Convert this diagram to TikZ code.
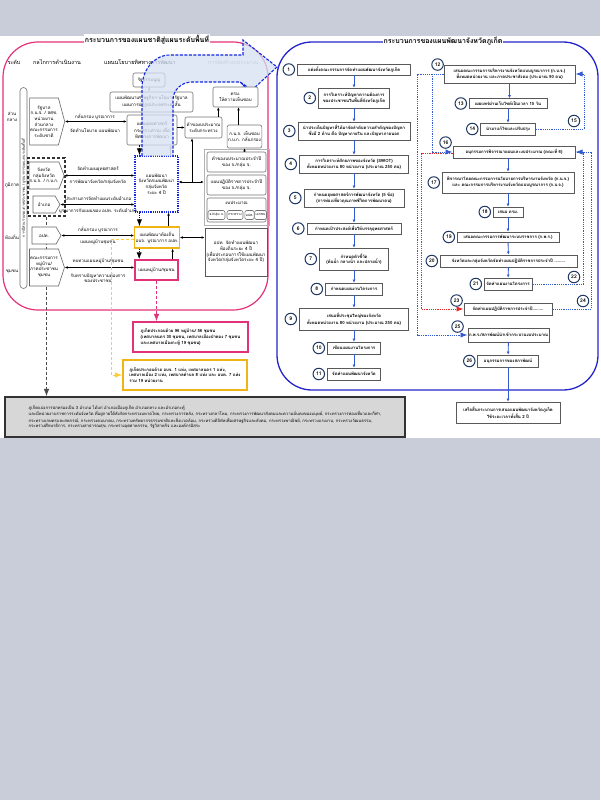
\documentclass[tikz,border=0pt]{standalone}
\usepackage{fontspec}
\setmainfont[Script=Thai]{Loma}
\usepackage{tikz}
\usetikzlibrary{positioning,arrows.meta,shapes.symbols,shadows,calc}

\definecolor{bgcol}{RGB}{200,205,217}
\definecolor{pinkln}{RGB}{226,50,122}
\definecolor{panelbl}{RGB}{36,36,205}
\definecolor{navy}{RGB}{31,56,100}
\definecolor{stepbl}{RGB}{50,90,210}
\definecolor{bandbl}{RGB}{20,40,225}
\definecolor{bandfill}{RGB}{214,225,244}
\definecolor{goldln}{RGB}{240,180,20}
\definecolor{yelln}{RGB}{255,205,60}
\definecolor{redln}{RGB}{230,40,40}
\definecolor{boxgray}{RGB}{215,215,215}

\begin{document}
\begin{tikzpicture}[x=1pt,y=-1pt,>=Latex,
  font=\fontsize{4.5}{5.6}\selectfont,
  stepbox/.style={draw=black!65, line width=0.9pt, fill=white, align=center, inner sep=1pt,
                  font=\fontsize{4.3}{5.6}\selectfont\bfseries,
                  drop shadow={shadow xshift=0.7pt,shadow yshift=-0.7pt,opacity=0.45}},
  numcirc/.style={circle, draw=navy, line width=1pt, fill=white, minimum size=11.5pt, inner sep=0pt,
                  font=\fontsize{5}{5}\selectfont\bfseries},
  lvlbox/.style={draw=black!55, rounded corners=2pt, fill=white, align=center, inner sep=1pt, line width=0.6pt},
  sigbox/.style={signal, signal to=east, signal pointer angle=#1, draw=black!60, fill=white,
                 align=center, inner sep=0.5pt, line width=0.6pt},
  infobox/.style={line width=1.2pt, fill=white, align=left, inner sep=3pt, font=\fontsize{4.3}{5.6}\selectfont\bfseries},
  dblarr/.style={{Latex[length=3pt,width=2.6pt]}-{Latex[length=3pt,width=2.6pt]}, line width=0.9pt},
  uparr/.style={-{Latex[length=3pt,width=2.6pt]}, line width=0.9pt},
  steparr/.style={-{Latex[length=3pt,width=3pt]}, draw=stepbl, line width=0.9pt},
  bluedot/.style={draw=stepbl, line width=0.9pt, dash pattern=on 1.2pt off 1pt},
  reddot/.style={draw=redln, line width=0.9pt, dash pattern=on 1.2pt off 1pt},
  blkdot/.style={line width=0.9pt, dash pattern=on 1.2pt off 1pt},
  blkdash/.style={draw=black!70, line width=1pt, dash pattern=on 3pt off 2pt}]

  % page, panels, titles
  \useasboundingbox (0,0) rectangle (600,800);
  \fill[bgcol] (0,0) rectangle (600,800);
  \fill[white] (0,36) rectangle (600,438);
  \draw[pinkln, line width=1.2pt, rounded corners=35pt] (3,42) rectangle (268,310);
  \draw[panelbl, line width=1.3pt, rounded corners=35pt] (277,42) rectangle (598,390);
  \node[fill=white, inner sep=1pt, font=\fontsize{7}{8}\selectfont\bfseries] (ltitle) at (147,40) {กระบวนการของแผนชาติสู่แผนระดับพื้นที่};
  \node[fill=white, inner sep=1pt, font=\fontsize{7}{8}\selectfont\bfseries] (rtitle) at (443,41) {กระบวนการของแผนพัฒนาจังหวัดภูเก็ต};

  % headers and levels
  \node[font=\fontsize{5.5}{6}\selectfont] (hlvl) at (14,62) {ระดับ};
  \node[font=\fontsize{5.5}{6}\selectfont] (hmech) at (57,62) {กลไกการดำเนินงาน};
  \node[font=\fontsize{5.5}{6}\selectfont] (hpol) at (140,62) {แผนนโยบายทิศทางการพัฒนา};
  \node[font=\fontsize{5.5}{6}\selectfont, text=black!40] (hbud) at (233,62) {การจัดทำงบประมาณ};
  \node[align=center] (lv1) at (12,117) {ส่วน\\กลาง};
  \node (lv2) at (12,185) {ภูมิภาค};
  \node (lv3) at (12,237) {ท้องถิ่น};
  \node (lv4) at (12,272) {ชุมชน};
  \node[draw=black!55, rounded corners=3.5pt, minimum width=7pt, minimum height=201pt, line width=0.6pt] (oval) at (23.5,188) {};
  \node[rotate=90, font=\fontsize{3.6}{4}\selectfont] at (oval) {การมีส่วนร่วมของภาคประชาชน / บูรณาการแผนงานระดับพื้นที่};

  % bottom note and mechanism column
  \node[infobox, draw=black!80, fill=boxgray, minimum width=400pt, minimum height=40pt,
        font=\fontsize{4.2}{5.4}\selectfont] (gbox) at (205,417)
    {ภูเก็ตแบ่งการปกครองเป็น 3 อำเภอ ได้แก่ อำเภอเมืองภูเก็ต อำเภอถลาง และอำเภอกะทู้\\
     และมีหน่วยงานราชการระดับจังหวัด ที่อยู่ภายใต้สังกัดกระทรวงมหาดไทย, กระทรวงการคลัง, กระทรวงกลาโหม, กระทรวงการพัฒนาสังคมและความมั่นคงของมนุษย์, กระทรวงการท่องเที่ยวและกีฬา,\\
     กระทรวงเกษตรและสหกรณ์, กระทรวงคมนาคม, กระทรวงทรัพยากรธรรมชาติและสิ่งแวดล้อม, กระทรวงดิจิทัลเพื่อเศรษฐกิจและสังคม, กระทรวงพาณิชย์, กระทรวงแรงงาน, กระทรวงวัฒนธรรม,\\
     กระทรวงศึกษาธิการ, กระทรวงสาธารณสุข, กระทรวงอุตสาหกรรม, รัฐวิสาหกิจ และองค์กรอิสระ};
  \node[draw=black!80, line width=1.2pt, dash pattern=on 3pt off 2pt, minimum width=37pt, minimum height=58pt] (provgrp) at (46.5,187) {};
  \draw[blkdash,->] (provgrp.south) -- (provgrp.south |- gbox.north);
  \node[sigbox=150, minimum width=28pt, minimum height=47pt] (gov) at (44,121.5) {รัฐบาล\\ก.น.จ. / สศช.\\หน่วยงาน\\ส่วนกลาง\\คณะกรรมการ\\ระดับชาติ};
  \node[sigbox=138, minimum width=28pt, minimum height=27pt] (prov) at (44,175.5) {จังหวัด\\กลุ่มจังหวัด\\ก.บ.จ. / ก.บ.ก.};
  \node[sigbox=120, minimum width=27pt, minimum height=17pt] (dist) at (44,204.5) {อำเภอ};
  \node[sigbox=120, minimum width=29pt, minimum height=17pt] (lao) at (44,235.5) {อปท.};
  \node[sigbox=144, minimum width=29pt, minimum height=37pt] (vil) at (44,267.5) {คณะกรรมการ\\หมู่บ้าน/\\ภาคประชาชน\\ชุมชน};

  % policy column
  \node[lvlbox, minimum width=32pt, minimum height=14pt] (const) at (149,80) {รัฐธรรมนูญ};
  \node[lvlbox, minimum width=83pt, minimum height=20pt] (npl) at (151.5,102) {แผนพัฒนาเศรษฐกิจฯ นโยบายรัฐบาล\\แผนการปฏิรูปประเทศระยะสั้น};
  \node[lvlbox, minimum width=50pt, minimum height=30pt] (strat) at (152,130) {แผนยุทธศาสตร์\\กระทรวง/กรม เพื่อ\\ทิศทางการพัฒนา};
  \node[draw=bandbl, line width=1.1pt, dash pattern=on 1.2pt off 1pt, fill=white, align=center,
        minimum width=43pt, minimum height=56pt, inner sep=1pt] (pplan) at (156.5,184) {แผนพัฒนา\\จังหวัด/แผนพัฒนา\\กลุ่มจังหวัด\\ระยะ 4 ปี};
  \node[draw=goldln, line width=1.3pt, fill=white, align=center, minimum width=44pt, minimum height=21pt, inner sep=1pt] (loc) at (157,237.5) {แผนพัฒนาท้องถิ่น\\อบจ. บูรณาการ อปท.};
  \node[draw=pinkln, line width=1.3pt, fill=white, minimum width=43pt, minimum height=20pt, inner sep=1pt] (vill) at (156.5,270) {แผนหมู่บ้าน/ชุมชน};

  % mechanism to plan links
  \draw[dblarr] (gov.east) -- (gov.east -| strat.west);
  \node (t1a) at (95,117) {กลั่นกรอง บูรณาการ};
  \node (t1b) at (95,130) {จัดทำนโยบาย แผนพัฒนา};
  \draw[dblarr] (prov.east) -- (prov.east -| pplan.west);
  \node (t2a) at (98,169.5) {จัดทำแผนยุทธศาสตร์};
  \node (t2b) at (98,182) {การพัฒนาจังหวัด/กลุ่มจังหวัด};
  \draw[dblarr] (dist.east) -- (dist.east -| pplan.west);
  \node (t3a) at (98,198.5) {ประสานการจัดทำแผนระดับอำเภอ};
  \node (t3b) at (98,211) {บูรณาการกับแผนของ อปท. ระดับอำเภอ};
  \draw[dblarr] (lao.east) -- (lao.east -| loc.west);
  \node (t4a) at (98,229.5) {กลั่นกรอง บูรณาการ};
  \node (t4b) at (98,242) {แผนหมู่บ้านชุมชน};
  \draw[dblarr] (vil.east) -- (vil.east -| vill.west);
  \node (t5a) at (98,261.5) {ทบทวนแผนหมู่บ้าน/ชุมชน};
  \node[align=center] (t5b) at (98,278) {รับทราบปัญหาความต้องการ\\ของประชาชน};

  % budget column
  \node[lvlbox, minimum width=37pt, minimum height=21pt] (mbud) at (203.5,127.5) {คำของบประมาณ\\ระดับกระทรวง};
  \node[lvlbox, minimum width=33pt, minimum height=23pt] (gnj) at (244.5,136.5) {ก.น.จ. เห็นชอบ\\ก.บ.ก. กลั่นกรอง};
  \node[draw=black!30, minimum width=65pt, minimum height=76pt] (grp) at (236.5,187) {};
  \node[lvlbox, minimum width=59pt, minimum height=20pt] (ybud) at (236.5,162) {คำของบประมาณประจำปี\\ของ จ./กลุ่ม จ.};
  \node[lvlbox, minimum width=59pt, minimum height=20pt] (apl) at (236.5,185) {แผนปฏิบัติราชการประจำปี\\ของ จ./กลุ่ม จ.};
  \node[lvlbox, minimum width=59pt, minimum height=24pt] (budg) at (236.5,210) {};
  \node (budt) at (236.5,203) {งบประมาณ};
  \node[lvlbox, font=\fontsize{3.4}{4}\selectfont, minimum width=17pt, minimum height=9pt] (bu1) at (216.5,215) {จ./กลุ่ม จ.};
  \node[lvlbox, font=\fontsize{3.4}{4}\selectfont, minimum width=16pt, minimum height=9pt] (bu2) at (235,215) {กระทรวง};
  \node[lvlbox, font=\fontsize{3.4}{4}\selectfont, minimum width=9pt, minimum height=9pt] (bu3) at (249.5,215) {อปท.};
  \node[lvlbox, font=\fontsize{3.4}{4}\selectfont, minimum width=9pt, minimum height=9pt] (bu4) at (260.5,215) {เอกชน};
  \node[draw=black!65, line width=0.8pt, fill=white, align=center, minimum width=62pt, minimum height=48pt, inner sep=1pt] (lplan) at (236,252)
    {อปท. จัดทำแผนพัฒนา\\ท้องถิ่นระยะ 4 ปี\\(เพื่อประกอบการใช้แผนพัฒนา\\จังหวัด/กลุ่มจังหวัดระยะ 4 ปี)};

  % policy and budget links
  \draw[uparr, black!45] (const.south) -- (const.south |- npl.north);
  \draw[uparr, black!45] ([xshift=-8pt]pplan.north east) -- ([xshift=-8pt]pplan.north east |- strat.south);
  \draw[blkdot,->] ([xshift=5pt]pplan.north west |- strat.south) -- ([xshift=5pt]pplan.north west);
  \draw[uparr] (strat.east |- mbud) -- (mbud.west);
  \coordinate (jn) at (192,182);
  \draw[dblarr] (pplan.east |- jn) -- (grp.west |- jn);
  \draw[uparr] (jn) -- (jn |- mbud.south);
  \draw[uparr] ([xshift=-10pt]pplan.south east |- loc.north) -- ([xshift=-10pt]pplan.south east);
  \draw[blkdot,->] ([xshift=5pt]pplan.south west) -- ([xshift=5pt]pplan.south west |- loc.north);
  \draw[uparr] ([xshift=-6pt]vill.north east) -- ([xshift=-6pt]vill.north east |- loc.south);
  \draw[blkdot,->] ([xshift=5pt]loc.south west) -- ([xshift=5pt]loc.south west |- vill.north);
  \draw[dblarr] (loc.east) -- (loc.east -| lplan.west);
  \draw[uparr] (gnj.south |- ybud.north) -- (gnj.south);

  % big arrow towards the province process
  \path[fill=bandfill, fill opacity=0.75, draw=bandbl, line width=1.1pt, dash pattern=on 3pt off 1.5pt]
    (142,156) -- (142,88) to[out=90,in=180] (170,55) -- (243,55) -- (243,40) -- (277,67)
    -- (252,90) -- (240,82) -- (192,82) to[out=180,in=90] (173,100) -- (173,156);
  \node[lvlbox, minimum width=45pt, minimum height=20pt] (cab) at (235.5,97) {ครม.\\ให้ความเห็นชอบ};
  \draw[bandbl, line width=1pt, -{Latex[length=3.5pt]}] (240,82) -- (246,87.5);
  \draw[uparr] ([xshift=-4pt]mbud.north east) -- ([xshift=-4pt]mbud.north east |- cab.south);
  \draw[uparr] ([xshift=-6pt]gnj.north) -- ([xshift=-6pt]gnj.north |- cab.south);

  % notes under the left panel
  \node[infobox, draw=pinkln, minimum width=115pt, minimum height=30pt] (pinfo) at (190.5,337)
    {ภูเก็ตประกอบด้วย 96 หมู่บ้าน/ 56 ชุมชน\\(เทศบาลนคร 30 ชุมชน, เทศบาลเมืองป่าตอง 7 ชุมชน\\และเทศบาลเมืองกะทู้ 19 ชุมชน)};
  \node[infobox, draw=goldln, minimum width=124pt, minimum height=30pt] (yinfo) at (185,375)
    {ภูเก็ตประกอบด้วย อบจ. 1 แห่ง, เทศบาลนคร 1 แห่ง,\\เทศบาลเมือง 2 แห่ง, เทศบาลตำบล 8 แห่ง และ อบต. 7 แห่ง\\รวม 19 หน่วยงาน};
  \draw[pinkln, line width=1pt, dash pattern=on 3pt off 2pt, ->] (vill.south) -- (vill.south |- pinfo.north);
  \draw[yelln, line width=1pt, dash pattern=on 3pt off 2pt, ->] ([yshift=-2pt]loc.west) -- ++(-23,0) |- (yinfo.west);

  % province process, first column
  \node[stepbox, minimum width=113pt, minimum height=11pt] (s1) at (354,69.5) {แต่งตั้งคณะกรรมการจัดทำแผนพัฒนาจังหวัดภูเก็ต};
  \node[stepbox, minimum width=71pt, minimum height=20pt] (s2) at (354,98) {การวิเคราะห์ปัญหาความต้องการ\\ของประชาชนในพื้นที่จังหวัดภูเก็ต};
  \node[stepbox, minimum width=112pt, minimum height=18pt] (s3) at (354,131) {นำประเด็นปัญหาที่ได้มาจัดลำดับความสำคัญของปัญหา\\ซึ่งมี 2 ด้าน คือ ปัญหาภายใน และปัญหาภายนอก};
  \node[stepbox, minimum width=109pt, minimum height=18pt] (s4) at (354,164) {การวิเคราะห์ศักยภาพของจังหวัด (SWOT)\\ทั้งหมดหน่วยงาน 80 หน่วยงาน (ประมาณ 250 คน)};
  \node[stepbox, minimum width=100pt, minimum height=18pt] (s5) at (354,198) {กำหนดยุทธศาสตร์การพัฒนาจังหวัด (5 ข้อ)\\(การท่องเที่ยวคุณภาพชีวิตการพัฒนาคน)};
  \node[stepbox, minimum width=94pt, minimum height=11pt] (s6) at (354,228.5) {กำหนดเป้าประสงค์เพื่อให้บรรลุยุทธศาสตร์};
  \node[stepbox, minimum width=69pt, minimum height=22pt] (s7) at (354,259) {กำหนดตัวชี้วัด\\(ต้นน้ำ กลางน้ำ และปลายน้ำ)};
  \node[stepbox, minimum width=57pt, minimum height=12pt] (s8) at (354,289) {กำหนดแผนงานโครงการ};
  \node[stepbox, minimum width=109pt, minimum height=22pt] (s9) at (354,319) {เสนอที่ประชุมใหญ่ของจังหวัด\\ทั้งหมดหน่วยงาน 80 หน่วยงาน (ประมาณ 250 คน)};
  \node[stepbox, minimum width=53pt, minimum height=12pt] (s10) at (354,348) {เขียนแผนงานโครงการ};
  \node[stepbox, minimum width=53pt, minimum height=12pt] (s11) at (354,374) {จัดทำแผนพัฒนาจังหวัด};
  \foreach \i in {1,...,11} {\node[numcirc, left=2pt of s\i] (c\i) {\i};}
  \foreach \i/\j in {1/2,2/3,3/4,4/5,5/6,6/7,7/8,8/9,9/10,10/11} {\draw[steparr] (s\i) -- (s\j);}

  % province process, second column
  \node[stepbox, minimum width=131pt, minimum height=18pt] (s12) at (509.5,74) {เสนอคณะกรรมการบริหารงานจังหวัดแบบบูรณาการ (ก.บ.จ.)\\ทั้งหมดหน่วยงาน และภาคประชาสังคม (ประมาณ 90 คน)};
  \node[stepbox, minimum width=78pt, minimum height=10pt] (s13) at (508,103.5) {เผยแพร่ผ่านเว็บไซต์เป็นเวลา 15 วัน};
  \node[stepbox, minimum width=55pt, minimum height=12pt] (s14) at (508,129) {นำมาแก้ไขและปรับปรุง};
  \node[stepbox, minimum width=122pt, minimum height=12pt] (s16) at (514,152) {อนุกรรมการพิจารณาแผนและงบประมาณ (คณะที่ 6)};
  \node[stepbox, minimum width=132pt, minimum height=21pt] (s17) at (508,182.5) {พิจารณาโดยคณะกรรมการนโยบายการบริหารงานจังหวัด (ก.น.จ.)\\และ คณะกรรมการบริหารงานจังหวัดแบบบูรณาการ (ก.บ.จ.)};
  \node[stepbox, minimum width=30pt, minimum height=10pt] (s18) at (508,212) {เสนอ ครม.};
  \node[stepbox, minimum width=102pt, minimum height=10pt] (s19) at (508,237) {เสนอคณะกรรมการพัฒนาระบบราชการ (ก.พ.ร.)};
  \node[stepbox, minimum width=137pt, minimum height=12pt] (s20) at (508.5,261) {จังหวัดและกลุ่มจังหวัดจัดทำแผนปฏิบัติราชการประจำปี .........};
  \node[stepbox, minimum width=48pt, minimum height=12pt] (s21) at (508,284) {จัดทำแผนงานโครงการ};
  \node[stepbox, minimum width=88pt, minimum height=12pt] (s23) at (508,309) {จัดทำแผนปฏิบัติราชการประจำปี.........};
  \node[stepbox, minimum width=79pt, minimum height=14pt] (s25) at (508.5,335) {ก.พ.ร./สภาพัฒน์นำเข้ากระบวนงบประมาณ};
  \node[stepbox, minimum width=61pt, minimum height=12pt] (s26) at (508,361) {อนุกรรมการของสภาพัฒน์};
  \node[stepbox, minimum width=104pt, minimum height=21pt] (fin) at (508,412.5) {เสร็จสิ้นกระบวนการเสนอแผนพัฒนาจังหวัดภูเก็ต\\ใช้ระยะเวลาทั้งสิ้น 2 ปี};
  \foreach \i in {13,14,17,18,19,20,21,26} {\node[numcirc, left=1.5pt of s\i] (c\i) {\i};}
  \node[numcirc] (c12) at ([xshift=-6pt]s12.north west) {12};
  \node[numcirc] (c16) at ([xshift=-7pt,yshift=3pt]s16.north west) {16};
  \node[numcirc] (c23) at ([xshift=-7pt,yshift=2pt]s23.north west) {23};
  \node[numcirc] (c25) at ([xshift=-10pt,yshift=1pt]s25.north west) {25};
  \node[numcirc] (c15) at (574,121) {15};
  \node[numcirc] (c22) at (574,277) {22};
  \node[numcirc] (c24) at (583,301) {24};
  \draw[steparr] (s12.south) -- (s12.south |- s13.north);
  \draw[steparr] (s13) -- (s14);
  \draw[steparr] (s16.south -| s17.north) -- (s17.north);
  \foreach \a/\b in {s17/s18,s18/s19,s19/s20,s20/s21,s25/s26,s26/fin} {\draw[steparr] (\a) -- (\b);}

  % feedback loops
  \draw[bluedot,->] (s14.east) -- ++(48,0) |- (s12.east);
  \draw[bluedot,->] (s12.west) -- ++(-26,0) |- (s25.west);
  \coordinate (j12) at (432,74);
  \draw[bluedot,->] (j12) |- (s16.west);
  \draw[reddot,->] ([yshift=-1.5pt]s16.west) -- ++(-31,0) |- (s23.west);
  \draw[bluedot,->] (s21.east) -- ++(51,0) |- (s16.east);
  \draw[bluedot] (s23.east) -- ++(39,0) |- (s16.east);
\end{tikzpicture}
\end{document}
